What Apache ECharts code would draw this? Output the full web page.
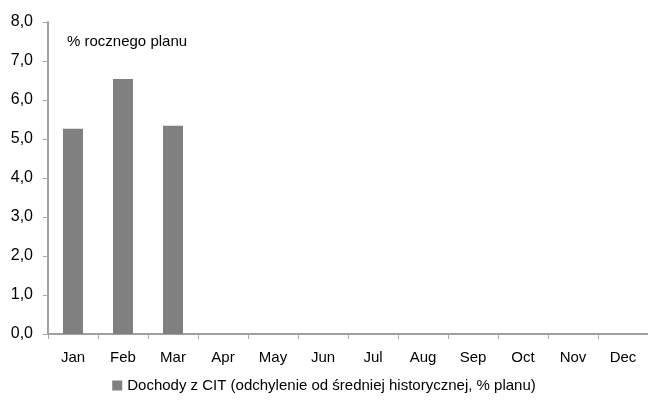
<!DOCTYPE html>
<html>
<head>
<meta charset="utf-8">
<script src="https://cdn.jsdelivr.net/npm/echarts@6/dist/echarts.min.js"></script>
<style>
  html, body { margin: 0; padding: 0; background: #fff; }
  #main { width: 648px; height: 403px; }
</style>
</head>
<body>
<div id="main"></div>
<script>
// months on the x axis
const months = ['Jan', 'Feb', 'Mar', 'Apr', 'May', 'Jun', 'Jul', 'Aug', 'Sep', 'Oct', 'Nov', 'Dec'];
// CIT revenue deviation (only first quarter available)
const citValues = [5.26, 6.54, 5.34, null, null, null, null, null, null, null, null, null];
const seriesName = 'Dochody z CIT (odchylenie od średniej historycznej, % planu)';
const unitLabel = '% rocznego planu';

const chart = echarts.init(document.getElementById('main'));
const font = '"Liberation Sans", Arial, sans-serif';

const option = {
  animation: false,
  textStyle: { fontFamily: font },
  title: {
    text: unitLabel,
    left: 62,
    top: 29,
    textStyle: { fontSize: 15, fontWeight: 'normal', color: '#000', fontFamily: font }
  },
  legend: {
    data: [seriesName],
    bottom: 5,
    left: 'center',
    icon: 'rect',
    itemWidth: 10,
    itemHeight: 10,
    itemGap: 4,
    textStyle: { fontSize: 15, color: '#000', fontFamily: font }
  },
  grid: { left: 48, right: 0, top: 22, bottom: 69, containLabel: false },
  xAxis: {
    type: 'category',
    data: months,
    axisLine: { lineStyle: { color: '#a0a0a0', width: 2 } },
    axisTick: { show: true, length: 5, alignWithLabel: false, lineStyle: { color: '#a8a8a8' } },
    axisLabel: { color: '#000', fontSize: 15, margin: 16, fontFamily: font }
  },
  yAxis: {
    type: 'value',
    min: 0,
    max: 8,
    interval: 1,
    axisLine: { show: true, lineStyle: { color: '#a0a0a0', width: 2 } },
    axisTick: { show: true, length: 5, lineStyle: { color: '#a8a8a8' } },
    splitLine: { show: false },
    axisLabel: {
      color: '#000',
      fontSize: 16,
      margin: 15,
      fontFamily: font,
      formatter: v => v.toFixed(1).replace('.', ',')
    }
  },
  series: [
    {
      name: seriesName,
      type: 'bar',
      data: citValues,
      barWidth: 20,
      itemStyle: { color: '#808080' }
    }
  ]
};

chart.setOption(option);
</script>
</body>
</html>
